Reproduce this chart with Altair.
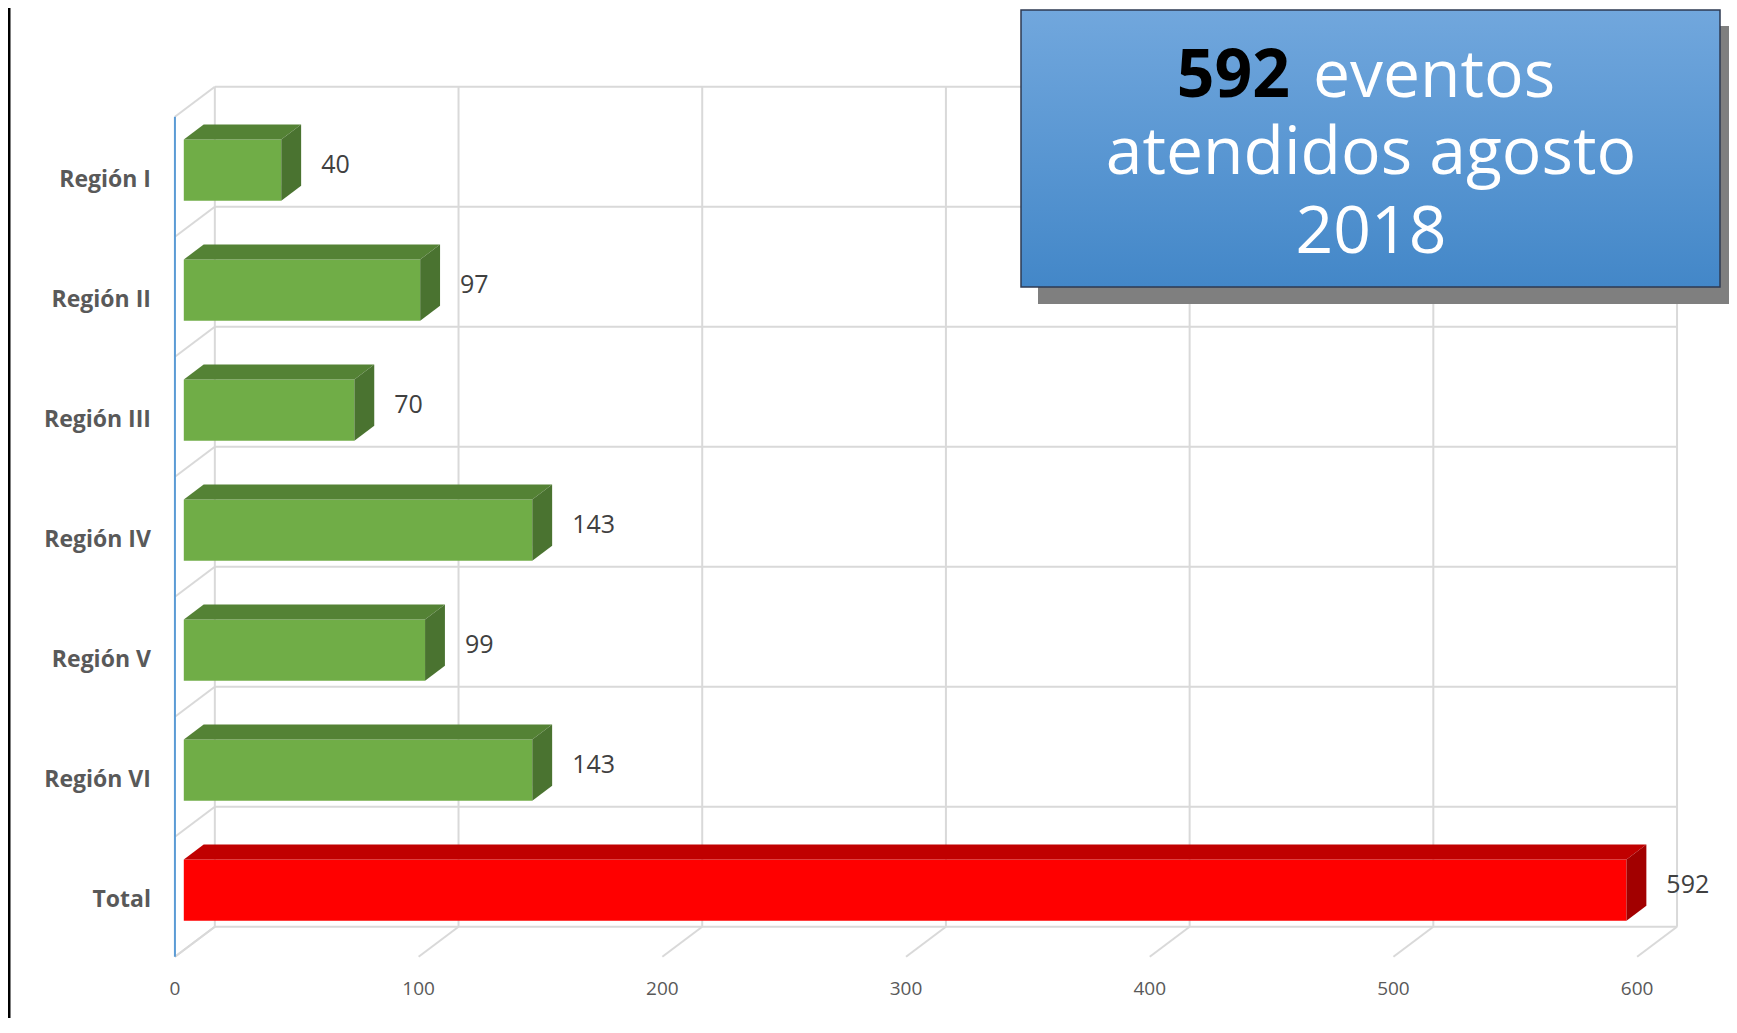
import altair as alt
import pandas as pd

# ---------------- data ----------------
categories = ["Región I", "Región II", "Región III", "Región IV", "Región V", "Región VI", "Total"]
values = [40, 97, 70, 143, 99, 143, 592]
is_total = [False, False, False, False, False, False, True]
tick_values = [0, 100, 200, 300, 400, 500, 600]
tick_labels = ["0", "100", "200", "300", "400", "500", "600"]
title_number = "592"
title_word = "eventos"
title_lines = ["atendidos agosto", "2018"]

# ---------------- geometry / style ----------------
W, H = 1721, 1010
PX_PER_UNIT = 2.437
X0 = -68.5
XDOM = [X0, X0 + W / PX_PER_UNIT]
BAND = 120.0
Y0 = -0.906
YDOM = [Y0, Y0 + H / BAND]

DX = 16.37   # full depth of the 3-D box, in value units
DY = 0.25    # full depth of the 3-D box, in category units
D0, D1 = 0.222, 0.72   # bar depth span
B0, B1 = 0.245, 0.755  # bar span inside a category band
NCAT = len(categories)
VMAX = tick_values[-1]

GRID = "#D9D9D9"
AXIS_BLUE = "#5B9BD5"
TXT = "#595959"
FONT = "Open Sans"
GREEN = ("#70AD47", "#548235", "#4A7330")
RED = ("#FF0000", "#C00000", "#A20000")

xs = alt.Scale(domain=XDOM, nice=False, zero=False)
ys = alt.Scale(domain=YDOM, nice=False, zero=False, reverse=True)


def X(f="x"):
    return alt.X(f"{f}:Q", scale=xs, axis=None, stack=None)


def Y(f="y"):
    return alt.Y(f"{f}:Q", scale=ys, axis=None, stack=None)


# ---------------- grid (back wall, left wall, floor) ----------------
grid_rows = []
for v in tick_values:
    grid_rows.append(dict(x=v + DX, y=0 - DY, x2=v + DX, y2=NCAT - DY))
    grid_rows.append(dict(x=v, y=NCAT, x2=v + DX, y2=NCAT - DY))
for c in range(NCAT + 1):
    grid_rows.append(dict(x=DX, y=c - DY, x2=VMAX + DX, y2=c - DY))
    grid_rows.append(dict(x=0, y=c, x2=DX, y2=c - DY))
grid_df = pd.DataFrame(grid_rows)

grid = alt.Chart(grid_df).mark_rule(color=GRID, strokeWidth=2).encode(
    x=X(), y=Y(), x2="x2:Q", y2="y2:Q"
)

axis_df = pd.DataFrame([dict(x=0, y=0, x2=0, y2=NCAT)])
axis_line = alt.Chart(axis_df).mark_rule(color=AXIS_BLUE, strokeWidth=2).encode(
    x=X(), y=Y(), x2="x2:Q", y2="y2:Q"
)

# ---------------- bars ----------------
front_rows, top_rows, side_rows, lab_rows = [], [], [], []
for i, (cat, v, tot) in enumerate(zip(categories, values, is_total)):
    f, t, s = RED if tot else GREEN
    front_rows.append(dict(x=D0 * DX, x2=v + D0 * DX,
                           y=i + B0 - D0 * DY, y2=i + B1 - D0 * DY, fill=f))
    top_rows.append(dict(bar=i, x=D0 * DX, x2=v + D0 * DX, y=i + B0 - D0 * DY, fill=t))
    top_rows.append(dict(bar=i, x=D1 * DX, x2=v + D1 * DX, y=i + B0 - D1 * DY, fill=t))
    side_rows.append(dict(bar=i, x=v + D0 * DX, y=i + B0 - D0 * DY, y2=i + B1 - D0 * DY, fill=s))
    side_rows.append(dict(bar=i, x=v + D1 * DX, y=i + B0 - D1 * DY, y2=i + B1 - D1 * DY, fill=s))
    lab_rows.append(dict(cat=cat, value=str(v), xv=v + D1 * DX, yv=i + 0.472,
                         xc=0, yc=i + 0.583))

front = alt.Chart(pd.DataFrame(front_rows)).mark_rect(opacity=1).encode(
    x=X(), x2="x2:Q", y=Y(), y2="y2:Q", color=alt.Color("fill:N", scale=None)
)
top = alt.Chart(pd.DataFrame(top_rows)).mark_area(orient="horizontal", opacity=1).encode(
    y=Y(), x=X(), x2="x2:Q", detail="bar:N", color=alt.Color("fill:N", scale=None)
)
side = alt.Chart(pd.DataFrame(side_rows)).mark_area(orient="vertical", opacity=1).encode(
    x=X(), y=Y(), y2="y2:Q", detail="bar:N", color=alt.Color("fill:N", scale=None)
)

lab_df = pd.DataFrame(lab_rows)
value_labels = alt.Chart(lab_df).mark_text(
    align="left", baseline="alphabetic", dx=20, font=FONT, fontSize=25, color="#404040"
).encode(x=X("xv"), y=Y("yv"), text="value:N")

cat_labels = alt.Chart(lab_df).mark_text(
    align="right", baseline="alphabetic", dx=-24, font=FONT, fontSize=23,
    fontWeight="bold", color=TXT
).encode(x=X("xc"), y=Y("yc"), text="cat:N")

tick_df = pd.DataFrame(dict(x=tick_values, y=[NCAT] * len(tick_values), t=tick_labels))
tick_text = alt.Chart(tick_df).mark_text(
    align="center", baseline="alphabetic", dy=38, font=FONT, fontSize=19, color=TXT
).encode(x=X(), y=Y(), text="t:N")

# ---------------- frame border & title box ----------------
one = pd.DataFrame([dict(n=title_number, w=title_word, l2=title_lines[0], l3=title_lines[1])])

border = alt.Chart(one).mark_rule(color="black", strokeWidth=2.5).encode(
    x=alt.value(1.25), y=alt.value(0), y2=alt.value(H)
)

shadow = alt.Chart(one).mark_rect(color="#7F7F7F").encode(
    x=alt.value(1030), x2=alt.value(1729), y=alt.value(18), y2=alt.value(296)
)
box = alt.Chart(one).mark_rect(
    fill=alt.LinearGradient(
        gradient="linear", x1=0, x2=0, y1=0, y2=1,
        stops=[alt.GradientStop(color="#71A7DD", offset=0),
               alt.GradientStop(color="#4387C8", offset=1)],
    ),
    stroke="#2E3A52", strokeWidth=1.5,
).encode(x=alt.value(1013), x2=alt.value(1712), y=alt.value(2), y2=alt.value(279))

t_num = alt.Chart(one).mark_text(
    align="right", baseline="alphabetic", font=FONT, fontSize=66, fontWeight="bold", color="black"
).encode(x=alt.value(1282), y=alt.value(89), text="n:N")
t_word = alt.Chart(one).mark_text(
    align="left", baseline="alphabetic", font=FONT, fontSize=66, color="white"
).encode(x=alt.value(1305), y=alt.value(89), text="w:N")
t_l2 = alt.Chart(one).mark_text(
    align="center", baseline="alphabetic", font=FONT, fontSize=66, color="white"
).encode(x=alt.value(1363), y=alt.value(166), text="l2:N")
t_l3 = alt.Chart(one).mark_text(
    align="center", baseline="alphabetic", font=FONT, fontSize=66, color="white"
).encode(x=alt.value(1363), y=alt.value(245), text="l3:N")

chart = alt.layer(
    grid, axis_line, front, top, side, value_labels, cat_labels, tick_text,
    border, shadow, box, t_num, t_word, t_l2, t_l3
).properties(
    width=W, height=H, padding=0, autosize="none", background="white"
).configure_view(stroke=None)

chart.save("out.html", embed_options={"renderer": "svg", "actions": False})
